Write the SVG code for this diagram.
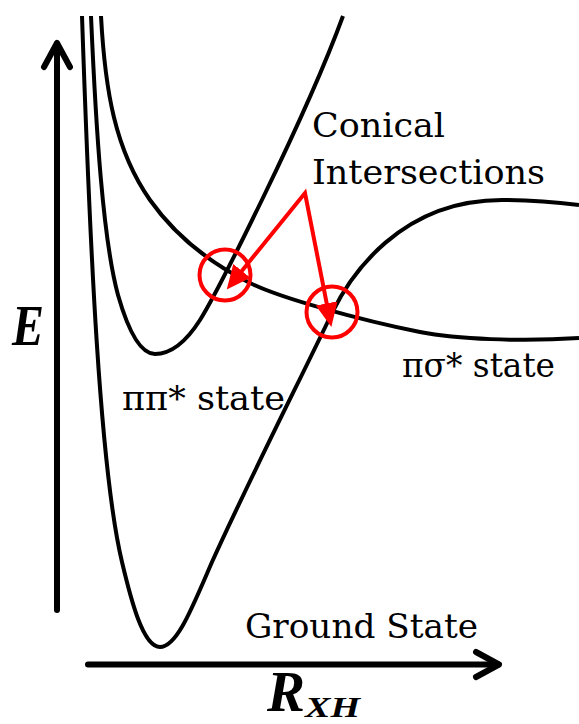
<svg xmlns="http://www.w3.org/2000/svg" width="579" height="724" viewBox="0 0 579 724">
<style>
.curve{fill:none;stroke:#000;stroke-width:4;stroke-linecap:butt;stroke-linejoin:round}
.axis{fill:none;stroke:#000;stroke-width:6;stroke-linecap:round;stroke-linejoin:round}
.ring{fill:none;stroke:#ff0000;stroke-width:4}
.ptr{fill:none;stroke:#ff0000;stroke-width:4;stroke-linejoin:miter;stroke-miterlimit:10}
.lbl{font-family:"DejaVu Serif","Liberation Serif",serif;font-size:34px;fill:#000}
.sym{font-family:"Liberation Serif",serif;font-weight:bold;font-style:italic;fill:#000}
</style>
<defs>
<marker id="redhead" markerUnits="userSpaceOnUse" markerWidth="24" markerHeight="22" refX="2" refY="11" orient="auto-start-reverse" viewBox="0 0 24 22">
<path d="M0,0 L24,11 L0,22 z" fill="#ff0000"/>
</marker>
</defs>
<rect width="579" height="724" fill="#fff"/>
<g id="axes">
<g id="axis-e">
<path class="axis" d="M57,610 L57,44"/>
<path class="axis" d="M44,67 L57,43 L70,67"/>
<text class="sym" x="12" y="345" font-size="56" textLength="32" lengthAdjust="spacingAndGlyphs">E</text>
</g>
<g id="axis-r">
<path class="axis" d="M88,664.5 L498,664.5"/>
<path class="axis" d="M476,652 L499,664.5 L476,677"/>
<text class="sym" x="267" y="711" font-size="56" textLength="38" lengthAdjust="spacingAndGlyphs">R</text>
<text class="sym" x="305" y="717" font-size="29" textLength="55" lengthAdjust="spacingAndGlyphs">XH</text>
</g>
</g>
<g id="ground-state">
<path class="curve" d="M82,16 C90,250 100,470 122,562 C131,600 143,647 160,647 C177,647 192,608 212,562 C250,478 300,380 332,313 C350,276 400,200 502,200 C530,200 555,202 579,205"/>
<text class="lbl" x="245" y="638" textLength="233" lengthAdjust="spacingAndGlyphs">Ground State</text>
</g>
<g id="pipi-state">
<path class="curve" d="M91,16 C96,130 103,240 118,295 C126,323 138,354 155,354 C172,354 186,342 200,320 C215,296 305,120 343,16"/>
<text class="lbl" x="122" y="410" textLength="163" lengthAdjust="spacingAndGlyphs">ππ* state</text>
</g>
<g id="pisigma-state">
<path class="curve" d="M101,16 C105,90 115,150 150,200 C169,227 200,258 250,283 C280,298 360,320 420,332 C456,339 520,342 579,338"/>
<text class="lbl" x="402" y="377" textLength="153" lengthAdjust="spacingAndGlyphs">πσ* state</text>
</g>
<g id="conical-intersections">
<circle class="ring" cx="225" cy="275" r="25.5"/>
<circle class="ring" cx="332" cy="312" r="25.5"/>
<text class="lbl" x="312" y="137" textLength="133" lengthAdjust="spacingAndGlyphs">Conical</text>
<text class="lbl" x="312" y="184" textLength="233" lengthAdjust="spacingAndGlyphs">Intersections</text>
</g>
<g id="connectors">
<path class="ptr" d="M240.6,272.4 L305,193 L327.1,305.4" marker-start="url(#redhead)" marker-end="url(#redhead)"/>
</g>
</svg>
